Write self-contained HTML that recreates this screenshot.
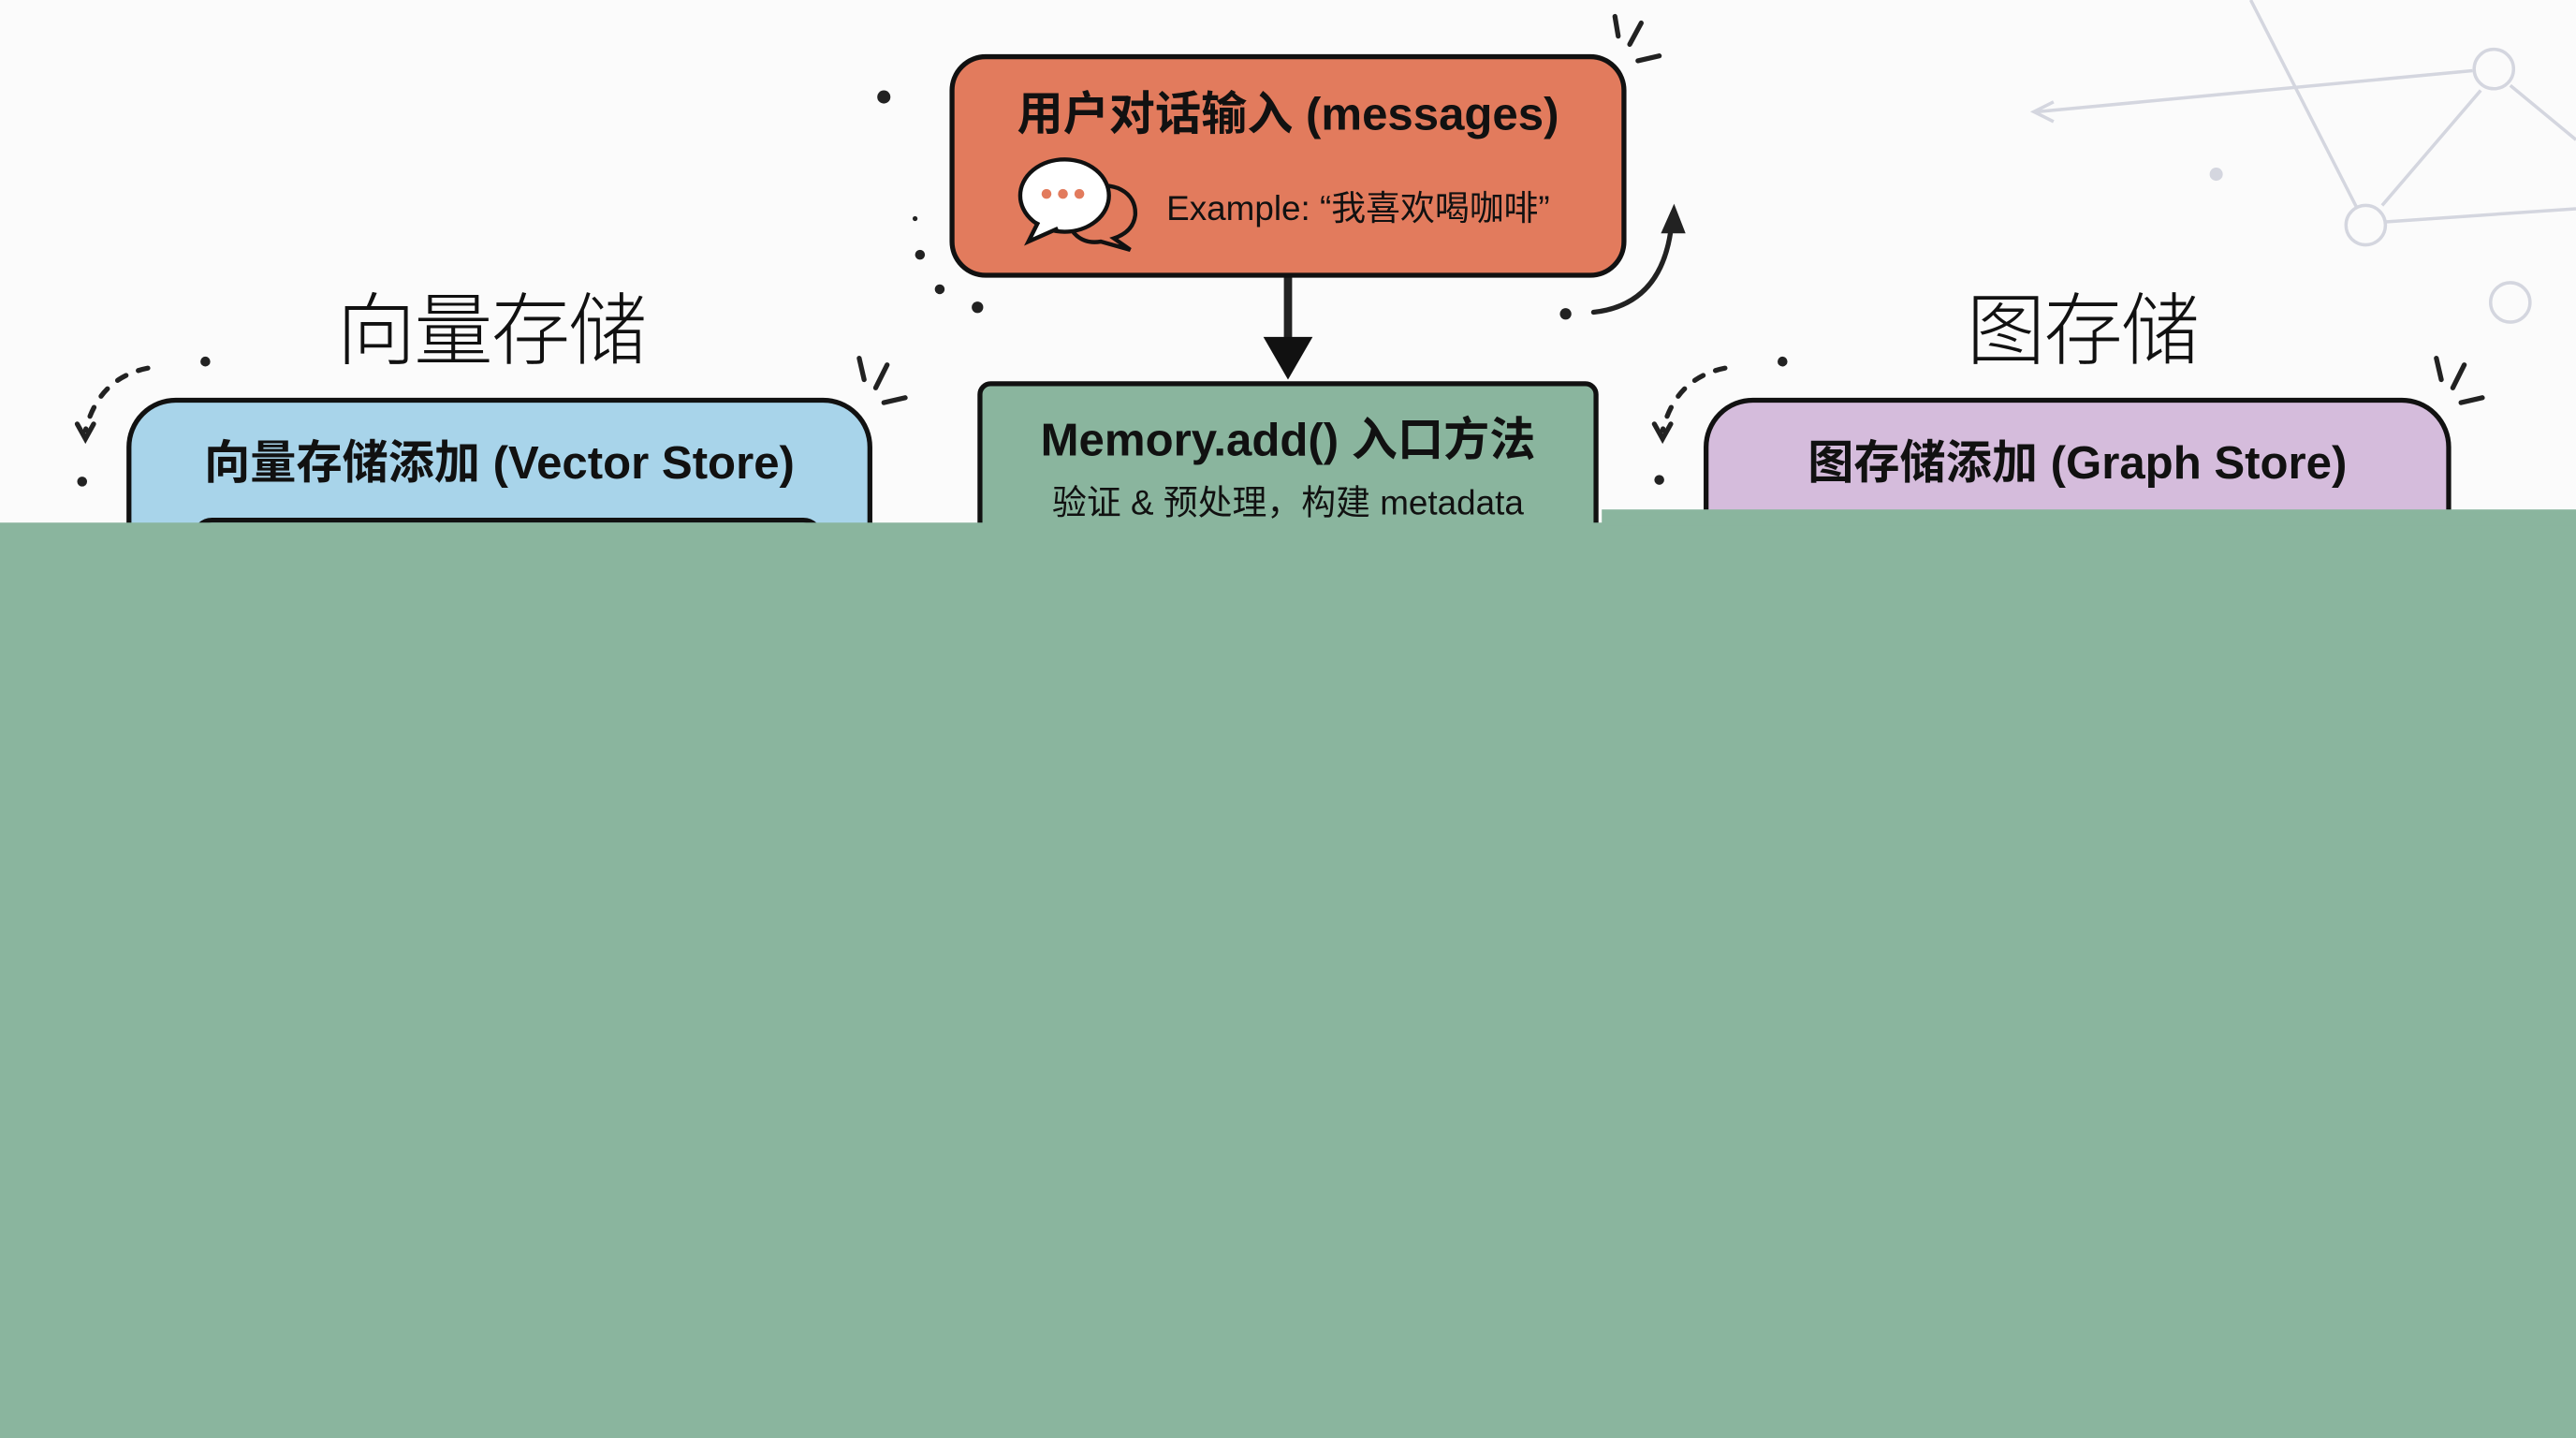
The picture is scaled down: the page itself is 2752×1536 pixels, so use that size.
<!DOCTYPE html>
<html><head><meta charset="utf-8">
<style>
html,body{margin:0;padding:0;width:2752px;height:1536px;overflow:hidden;background:#fbfbfb;}
#w{position:absolute;left:0;top:0;width:1568px;height:875px;transform:scale(1.75510,1.75543);transform-origin:0 0;font-family:"Liberation Sans","Noto Sans CJK SC",sans-serif;}
.box{position:absolute;box-sizing:border-box;border:3px solid #111;}
.t{position:absolute;left:0;right:0;text-align:center;font-weight:bold;color:#111;white-space:nowrap;}
.hand{position:absolute;font-family:"Noto Sans CJK SC",sans-serif;font-weight:300;color:#111;font-size:48px;letter-spacing:-1px;}
</style></head><body><div id="w">
<svg width="1568" height="875" style="position:absolute;left:0;top:0">
 <g stroke="#d4d6df" stroke-width="2" fill="none">
  <line x1="1370" y1="0" x2="1440" y2="137"/>
  <line x1="1240" y1="68" x2="1505" y2="43"/>
  <line x1="1450" y1="125" x2="1510" y2="55"/>
  <line x1="1528" y1="52" x2="1568" y2="85"/>
  <line x1="1452" y1="135" x2="1568" y2="127"/>
  <circle cx="1518" cy="42" r="12" fill="#fbfbfb"/>
  <circle cx="1440" cy="137" r="12" fill="#fbfbfb"/>
  <circle cx="1528" cy="184" r="12" fill="#fbfbfb"/>
  <path d="M1250 62 L1238 68 L1250 74"/>
 </g>
 <circle cx="1349" cy="106" r="4" fill="#d4d6df"/>
 <g fill="#222">
  <circle cx="538" cy="59" r="4"/><circle cx="557" cy="133" r="1.5"/><circle cx="560" cy="155" r="3"/>
  <circle cx="572" cy="176" r="3"/><circle cx="595" cy="187" r="3.5"/><circle cx="953" cy="191" r="3.5"/>
  <circle cx="125" cy="220" r="3"/><circle cx="50" cy="293" r="3"/><circle cx="1085" cy="220" r="3"/><circle cx="1010" cy="292" r="3"/>
 </g>
 <g stroke="#222" stroke-width="3" fill="none" stroke-linecap="round">
  <line x1="983" y1="10" x2="985" y2="22"/><line x1="999" y1="14" x2="992" y2="27"/><line x1="997" y1="37" x2="1010" y2="34"/>
  <line x1="523" y1="218" x2="526" y2="231"/><line x1="540" y1="222" x2="533" y2="236"/><line x1="538" y1="245" x2="551" y2="242"/>
  <line x1="1483" y1="218" x2="1486" y2="231"/><line x1="1500" y1="222" x2="1493" y2="236"/><line x1="1498" y1="245" x2="1511" y2="242"/>
  <path d="M970 190 Q1015 185 1018 130"/>
  <path d="M90 224 Q60 230 52 262" stroke-dasharray="6 8"/>
  <path d="M1050 224 Q1020 230 1012 262" stroke-dasharray="6 8"/>
  <path d="M47 258 L52 267 L57 258"/><path d="M1007 258 L1012 267 L1017 258"/>
  <line x1="784" y1="168" x2="784" y2="208" stroke-width="5"/>
 </g>
 <path d="M1011 142 L1019 124 L1026 142 Z" fill="#222"/>
 <path d="M769 205 L799 205 L784 231 Z" fill="#111"/>
</svg>
<div class="hand" style="left:205px;top:162px">向量存储</div>
<div class="hand" style="left:1197px;top:162px">图存储</div>

<div class="box" style="left:578px;top:33px;width:412px;height:136px;border-radius:22px;background:#e27b5d;">
 <div class="t" style="top:12px;font-size:28px;">用户对话输入 (messages)</div>
 <svg width="80" height="60" style="position:absolute;left:37px;top:59px">
  <path d="M42 20 C60 14 74 22 73 36 C72 44 66 48 60 50 L70 57 L52 52 C40 54 32 46 32 36" fill="#e27b5d" stroke="#111" stroke-width="2.5"/>
  <ellipse cx="30" cy="24" rx="27" ry="22" fill="#fff" stroke="#111" stroke-width="2.5"/>
  <path d="M14 40 L8 52 L26 44" fill="#fff" stroke="#111" stroke-width="2.5"/>
  <circle cx="19" cy="23" r="3" fill="#e27b5d"/><circle cx="29" cy="23" r="3" fill="#e27b5d"/><circle cx="39" cy="23" r="3" fill="#e27b5d"/>
 </svg>
 <div style="position:absolute;left:129px;top:75px;font-size:21px;color:#111;white-space:nowrap;">Example: “我喜欢喝咖啡”</div>
</div>

<div class="box" style="left:595px;top:232px;width:378px;height:120px;border-radius:8px;background:#8ab59e;">
 <div class="t" style="top:11px;font-size:28px;">Memory.add() 入口方法</div>
 <div class="t" style="top:55px;font-size:21px;font-weight:normal;">验证 &amp; 预处理，构建 metadata</div>
</div>

<div class="box" style="left:77px;top:242px;width:454px;height:120px;border-radius:30px;background:#a8d4ea;">
 <div class="t" style="top:15px;font-size:28px;">向量存储添加 (Vector Store)</div>
 <div style="position:absolute;left:37px;top:70px;width:378px;height:40px;border:3px solid #111;border-radius:12px;"></div>
</div>

<div class="box" style="left:1037px;top:242px;width:455px;height:120px;border-radius:30px;background:#d5bcdc;">
 <div class="t" style="top:15px;font-size:28px;">图存储添加 (Graph Store)</div>
</div>

<div style="position:absolute;left:0;top:318px;width:1568px;height:557px;background:#8ab59e;"></div>
<div style="position:absolute;left:975px;top:310px;width:593px;height:10px;background:#8ab59e;"></div>
</div></body></html>
